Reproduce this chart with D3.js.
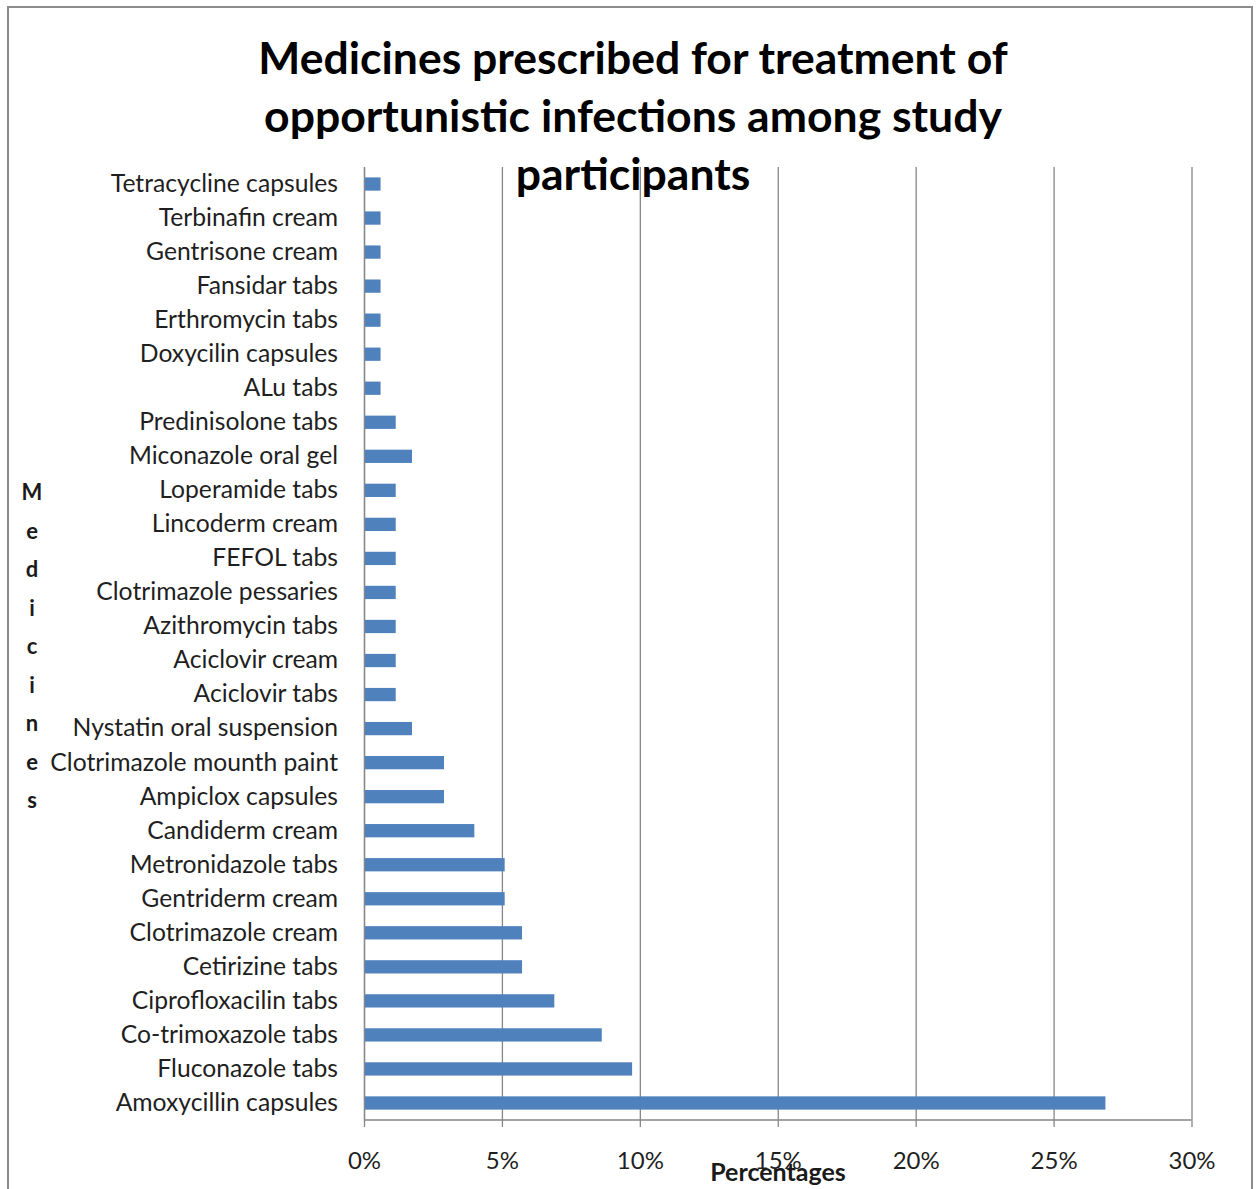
<!DOCTYPE html>
<html>
<head>
<meta charset="utf-8">
<script src="https://cdn.jsdelivr.net/npm/d3@7"></script>
<style>
  html, body { margin: 0; padding: 0; background: #fff; }
  svg { display: block; }
</style>
</head>
<body>
<svg id="chart" width="1257" height="1189"></svg>
<script>
// ---- data (top to bottom as in the chart) ----
const medicines = [
  "Tetracycline capsules", "Terbinafin cream", "Gentrisone cream", "Fansidar tabs",
  "Erthromycin tabs", "Doxycilin capsules", "ALu tabs", "Predinisolone tabs",
  "Miconazole oral gel", "Loperamide tabs", "Lincoderm cream", "FEFOL tabs",
  "Clotrimazole pessaries", "Azithromycin tabs", "Aciclovir cream", "Aciclovir tabs",
  "Nystatin oral suspension", "Clotrimazole mounth paint", "Ampiclox capsules",
  "Candiderm cream", "Metronidazole tabs", "Gentriderm cream", "Clotrimazole cream",
  "Cetirizine tabs", "Ciprofloxacilin tabs", "Co-trimoxazole tabs", "Fluconazole tabs",
  "Amoxycillin capsules"
];
const percentages = [
  0.6, 0.6, 0.6, 0.6,
  0.6, 0.6, 0.6, 1.15,
  1.74, 1.15, 1.15, 1.15,
  1.15, 1.15, 1.15, 1.15,
  1.74, 2.9, 2.9,
  4.0, 5.1, 5.1, 5.73,
  5.73, 6.9, 8.62, 9.72,
  26.88
];
const xTicks = [0, 5, 10, 15, 20, 25, 30];
const titleLines = ["Medicines prescribed for treatment of", "opportunistic infections among study", "participants"];
const xTitle = "Percentages";
const yTitle = "Medicines";

// ---- layout ----
const svg = d3.select("#chart");
const plot = { left: 364, right: 1191.5, top: 167, bottom: 1120 };
const font = "Lato, 'Open Sans', sans-serif";
const gridColor = "#868686";
const barColor = "#4F81BD";

// outer frame
svg.append("rect")
  .attr("x", 8).attr("y", 7)
  .attr("width", 1244).attr("height", 1200)
  .attr("fill", "#fff").attr("stroke", "#8c8c8c").attr("stroke-width", 2);

const x = d3.scaleLinear().domain([0, 30]).range([plot.left, plot.right]);
const y = d3.scaleBand().domain(medicines).range([plot.top, plot.bottom]).paddingInner(0.61).paddingOuter(0.305);

// gridlines + ticks
const xAxis = d3.axisBottom(x).tickValues(xTicks).tickFormat(d => d + "%")
  .tickSize(plot.bottom - plot.top + 7).tickSizeOuter(0).tickPadding(25);
const gx = svg.append("g").attr("transform", `translate(0,${plot.top})`).call(xAxis);
gx.select(".domain").remove();
gx.selectAll(".tick line").attr("stroke", gridColor).attr("stroke-width", 1.3);
gx.selectAll(".tick text")
  .attr("font-family", font).attr("font-size", 24).attr("fill", "#1f1f1f")
  .attr("dy", "0.71em");

// bottom axis line
svg.append("line")
  .attr("x1", plot.left).attr("x2", plot.right)
  .attr("y1", plot.bottom).attr("y2", plot.bottom)
  .attr("stroke", gridColor).attr("stroke-width", 1.3);

// bars
svg.append("g").selectAll("rect")
  .data(medicines)
  .join("rect")
  .attr("x", x(0))
  .attr("y", (d) => y(d))
  .attr("width", (d, i) => x(percentages[i]) - x(0))
  .attr("height", y.bandwidth())
  .attr("fill", barColor);

// y axis (labels)
const yAxis = d3.axisLeft(y).tickSize(0).tickPadding(26);
const gy = svg.append("g").attr("transform", `translate(${plot.left},0)`).call(yAxis);
gy.select(".domain").attr("stroke", gridColor).attr("stroke-width", 1.3);
gy.selectAll(".tick text")
  .attr("font-family", font).attr("font-size", 24.7).attr("fill", "#1f1f1f");

// title
const title = svg.append("text")
  .attr("text-anchor", "middle")
  .attr("font-family", font).attr("font-weight", "bold").attr("font-size", 44.5)
  .attr("fill", "#000");
titleLines.forEach((line, i) => {
  title.append("tspan").attr("x", 633).attr("y", 74 + i * 58).text(line);
});

// x axis title
svg.append("text")
  .attr("x", 778).attr("y", 1181)
  .attr("text-anchor", "middle")
  .attr("font-family", font).attr("font-weight", "bold").attr("font-size", 25)
  .attr("fill", "#1a1a1a")
  .text(xTitle);

// y axis title (stacked letters)
const yt = svg.append("text")
  .attr("text-anchor", "middle")
  .attr("font-family", font).attr("font-weight", "bold").attr("font-size", 22)
  .attr("fill", "#1a1a1a");
yTitle.split("").forEach((ch, i) => {
  yt.append("tspan").attr("x", 32).attr("y", 500 + i * 38.5).text(ch);
});
</script>
</body>
</html>
